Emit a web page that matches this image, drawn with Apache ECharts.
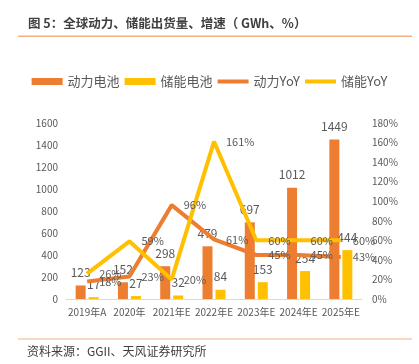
<!DOCTYPE html>
<html><head><meta charset="utf-8">
<script src="https://cdn.jsdelivr.net/npm/echarts@6/dist/echarts.min.js"></script>
<style>html,body{margin:0;padding:0;background:#fff}#c{width:419px;height:364px}</style>
</head><body><div id="c"></div>
<script>
var categories = ['2019年A','2020年','2021年E','2022年E','2023年E','2024年E','2025年E'];
var powerBattery = [123,152,298,479,697,1012,1449];
var storageBattery = [17,27,32,84,153,254,444];
var powerYoY = [18,23,96,61,45,45,43];
var storageYoY = [26,59,20,161,60,60,60];
var leftTicks = {min:0,max:1600,interval:200};
var rightTicks = {min:0,max:180,interval:20};

var ORANGE = '#ED7D31', YELLOW = '#FFC000', TXT = '#595959';
var chart = echarts.init(document.getElementById('c'), null, {renderer:'canvas'});
var lineLabel = {show:true, position:'right', distance:12, color:TXT, fontSize:11, fontFamily:'Noto Sans CJK SC', formatter:function(p){return p.value+'%';}};
var barLabel = {show:true, position:'top', distance:7, color:TXT, fontSize:12, fontFamily:'Noto Sans CJK SC'};
var lineIcon = 'path://M0,0h31v4h-31z';
chart.setOption({
  animation:false,
  textStyle:{fontFamily:'Noto Sans CJK SC'},
  graphic:[
    {type:'text', left:28, top:17, style:{text:'图 5：全球动力、储能出货量、增速（ GWh、%）', fill:'#404040', font:'bold 12.5px "Noto Sans CJK SC"'}},
    {type:'rect', shape:{x:18,y:35.5,width:394,height:1.5}, style:{fill:'#F4B183'}},
    {type:'rect', shape:{x:18,y:338.5,width:394,height:1}, style:{fill:'#F4B183'}},
    {type:'text', left:27, top:345, style:{text:'资料来源：GGII、天风证券研究所', fill:'#404040', font:'12px "Noto Sans CJK SC"'}}
  ],
  legend:{
    top:70, left:'center', itemGap:5, itemWidth:31, itemHeight:7, symbolKeepAspect:true,
    textStyle:{color:TXT, fontSize:13, fontFamily:'Noto Sans CJK SC'},
    data:[
      {name:'动力电池', icon:'rect'},
      {name:'储能电池', icon:'rect'},
      {name:'动力YoY', icon:lineIcon, itemStyle:{color:ORANGE}},
      {name:'储能YoY', icon:lineIcon, itemStyle:{color:YELLOW}}
    ]
  },
  grid:{left:66, right:57, top:123, bottom:65},
  xAxis:{type:'category', data:categories,
    axisLine:{lineStyle:{color:'#D9D9D9'}}, axisTick:{show:false},
    axisLabel:{color:TXT, fontSize:10, margin:8, interval:0}},
  yAxis:[
    {type:'value', min:leftTicks.min, max:leftTicks.max, interval:leftTicks.interval,
      splitLine:{show:false}, axisLine:{show:false}, axisTick:{show:false},
      axisLabel:{color:TXT, fontSize:10, margin:8, formatter:function(v){return String(v);}}},
    {type:'value', min:rightTicks.min, max:rightTicks.max, interval:rightTicks.interval,
      splitLine:{show:false}, axisLine:{show:false}, axisTick:{show:false},
      axisLabel:{color:TXT, fontSize:10, margin:10, formatter:'{value}%'}}
  ],
  series:[
    {name:'动力电池', type:'bar', data:powerBattery, barWidth:10, barGap:'30%',
      itemStyle:{color:ORANGE}, label:barLabel},
    {name:'储能电池', type:'bar', data:storageBattery, barWidth:10,
      itemStyle:{color:YELLOW}, label:barLabel},
    {name:'动力YoY', type:'line', yAxisIndex:1, data:powerYoY, symbol:'circle', symbolSize:0.01, showSymbol:true,
      lineStyle:{color:ORANGE, width:4}, itemStyle:{color:ORANGE}, label:lineLabel, z:3},
    {name:'储能YoY', type:'line', yAxisIndex:1, data:storageYoY, symbol:'circle', symbolSize:0.01, showSymbol:true,
      lineStyle:{color:YELLOW, width:4}, itemStyle:{color:YELLOW}, label:lineLabel, z:3}
  ]
});
</script></body></html>
